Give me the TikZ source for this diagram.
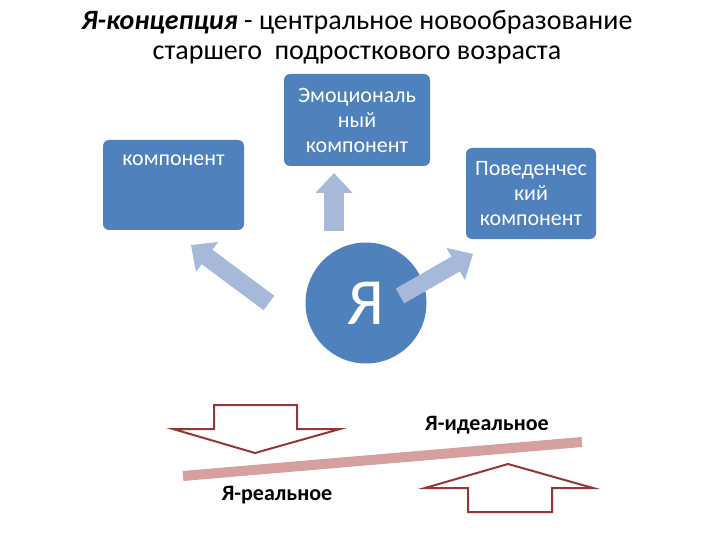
\documentclass[tikz,border=0pt]{standalone}
\usepackage{fontspec}
\setmainfont{Carlito}
\usetikzlibrary{arrows.meta}

\definecolor{boxblue}{RGB}{79,129,189}
\definecolor{arrowblue}{RGB}{167,185,216}
\definecolor{darkred}{RGB}{148,54,52}
\definecolor{barpink}{RGB}{214,160,160}

\begin{document}
\begin{tikzpicture}[x=1pt, y=-1pt,
                    fatarrow/.style={draw=arrowblue, line width=20pt,
                                     -{Triangle[width'=0pt 1.8, length=20pt, fill=arrowblue]}},
                    hollow/.style={draw=darkred, line width=2pt, line join=miter}]
    \tikzstyle{box}=[rectangle, rounded corners=6pt, fill=boxblue, text=white,
                     font=\fontsize{22}{25}\selectfont, align=center, inner sep=0pt]
    \tikzstyle{label}=[font=\bfseries\fontsize{22}{24}\selectfont]

    \useasboundingbox (0,0) rectangle (720,540);

    % title
    \node[font=\fontsize{28}{30}\selectfont, align=center] (title) at (357,37)
        {\textbf{\textit{Я-концепция}} - центральное новообразование\\старшего~ подросткового возраста};

    % components
    \node[box, minimum width=141pt, minimum height=90pt] (kog) at (173.5,185)
        {компонент\\\mbox{}\\\mbox{}};
    \node[box, minimum width=146pt, minimum height=92pt] (emo) at (357,120)
        {Эмоциональ\\ный\\компонент};
    \node[box, minimum width=130pt, minimum height=91pt] (pov) at (531,193.5)
        {Поведенчес\\кий\\компонент};

    \node[circle, fill=boxblue, text=white, minimum size=121pt, inner sep=0pt,
          font=\fontsize{66}{66}\selectfont] (ya) at (366,303) {Я};

    % arrows
    \coordinate (upS) at (334,231);
    \coordinate (upE) at (334,173);
    \coordinate (leftS) at (269,303);
    \coordinate (leftE) at (191,245);
    \coordinate (rightS) at (400,296);
    \coordinate (rightE) at (473,254);
    \draw[fatarrow] (upS) -- (upE);
    \draw[fatarrow, line width=18pt] (leftS) -- (leftE);
    \draw[fatarrow, line width=17pt] (rightS) -- (rightE);

    % real and ideal
    \coordinate (barL) at (183,476);
    \coordinate (barR) at (582,442);
    \draw[barpink, line width=10pt] (barL) -- (barR);

    \draw[hollow] (214,405) -- (297,405) -- (297,429) -- (340,429) -- (255,453)
        -- (173,429) -- (214,429) -- cycle;
    \draw[hollow] (468,512) -- (552,512) -- (552,488) -- (593,488) -- (508,464)
        -- (425,488) -- (468,488) -- cycle;

    \node[label] (ideal) at (487,425) {Я-идеальное};
    \node[label] (real) at (277,495) {Я-реальное};
\end{tikzpicture}
\end{document}
